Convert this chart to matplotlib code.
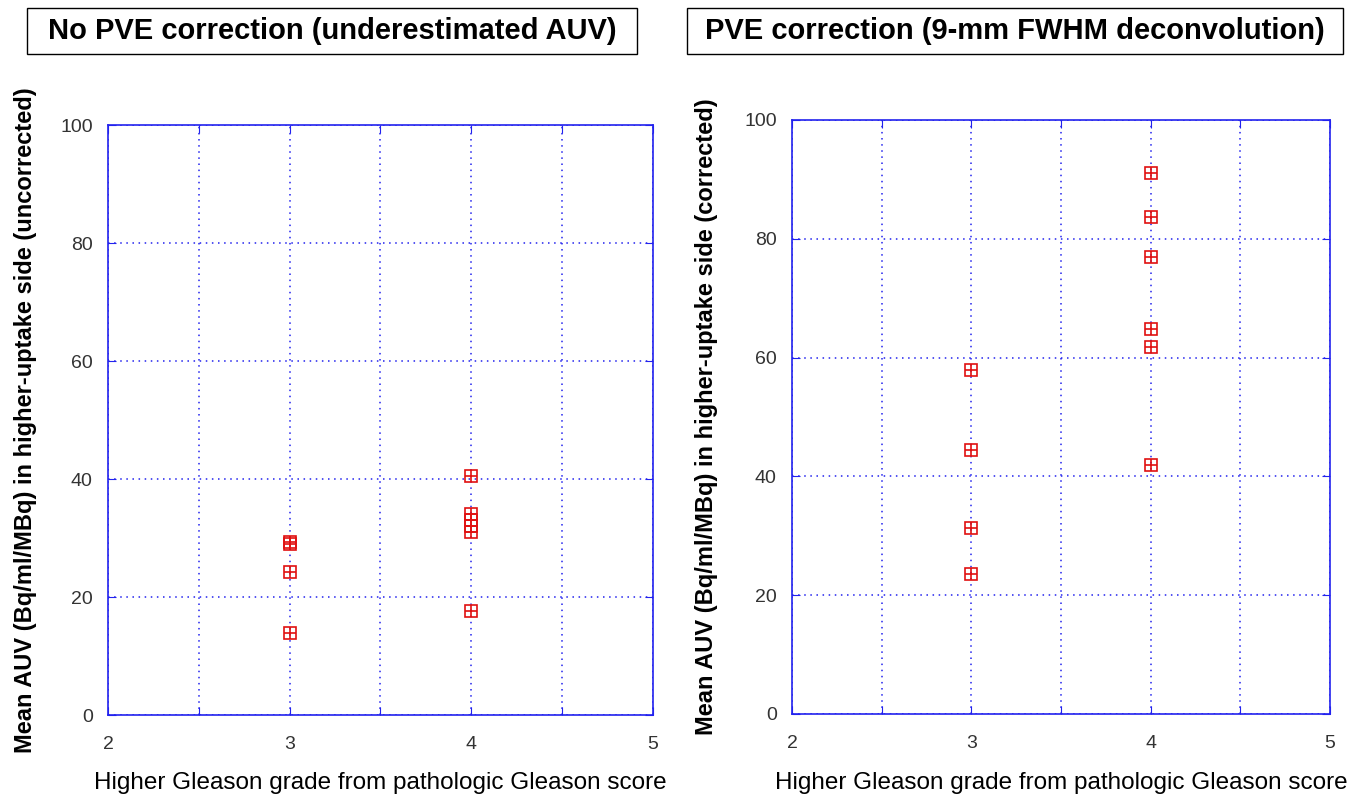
import matplotlib
matplotlib.use("Agg")
import matplotlib.pyplot as plt
from matplotlib.patches import Rectangle

plt.rcParams['font.family'] = ['Liberation Sans', 'DejaVu Sans']

# --- data ---
titles = ["No PVE correction (underestimated AUV)",
          "PVE correction (9-mm FWHM deconvolution)"]
ylabels = ["Mean AUV (Bq/ml/MBq) in higher-uptake side (uncorrected)",
           "Mean AUV (Bq/ml/MBq) in higher-uptake side (corrected)"]
xlabel = "Higher Gleason grade from pathologic Gleason score"

left_g3 = [29.0, 29.3, 24.3, 13.9]
left_g4 = [40.5, 34.0, 33.0, 32.0, 31.0, 17.6]
right_g3 = [57.9, 44.4, 31.3, 23.6]
right_g4 = [91.0, 83.6, 76.9, 64.8, 61.8, 41.9]

W, H = 1356, 798
fig = plt.figure(figsize=(W / 100, H / 100), dpi=100)

blue = '#2222ee'
red = '#e01010'


def px_box(x0, y0, x1, y1):
    # pixel box (top-left origin) -> figure fraction rect
    return [x0 / W, 1 - y1 / H, (x1 - x0) / W, (y1 - y0) / H]


axes_px = [(108, 125, 653, 715), (792, 120, 1330, 714)]
title_px = [(27, 8, 637, 54), (687, 8, 1343, 54)]
series = [(left_g3, left_g4), (right_g3, right_g4)]
ylab_x = [26, 706]

for i in range(2):
    ax = fig.add_axes(px_box(*axes_px[i]))
    g3, g4 = series[i]
    for xs, ys in (([3] * len(g3), g3), ([4] * len(g4), g4)):
        ax.plot(xs, ys, linestyle='none', marker='s', markersize=9,
                markerfacecolor='none', markeredgecolor=red, markeredgewidth=1.2)
        ax.plot(xs, ys, linestyle='none', marker='+', markersize=9,
                color=red, markeredgewidth=1.2)

    ax.set_xlim(2, 5)
    ax.set_ylim(0, 100)
    ax.set_xticks([2, 2.5, 3, 3.5, 4, 4.5, 5])
    ax.set_xticklabels(['2', '', '3', '', '4', '', '5'])
    ax.set_yticks([0, 20, 40, 60, 80, 100])
    ax.tick_params(direction='in', top=True, right=True, length=6,
                   color=blue, labelsize=14, labelcolor='#333333')
    ax.tick_params(axis='x', pad=15)
    ax.tick_params(axis='y', pad=11)
    for s in ax.spines.values():
        s.set_color(blue)
        s.set_linewidth(1.2)
    ax.grid(True, color=blue, linestyle=(0, (1, 3)), linewidth=1.1)

    xc = (axes_px[i][0] + axes_px[i][2]) / 2
    fig.text(xc / W, 1 - 783 / H, xlabel, ha='center', va='center',
             fontsize=17.5)
    fig.text(ylab_x[i] / W, 1 - (axes_px[i][1] + axes_px[i][3]) / 2 / H,
             ylabels[i], rotation=90, ha='center', va='center',
             fontsize=17, fontweight='bold')

    # boxed title above each panel
    tb = title_px[i]
    fig.patches.append(Rectangle((tb[0] / W, 1 - tb[3] / H),
                                 (tb[2] - tb[0]) / W, (tb[3] - tb[1]) / H,
                                 transform=fig.transFigure, fill=False,
                                 edgecolor='black', linewidth=1))
    fig.text((tb[0] + tb[2]) / 2 / W, 1 - (tb[1] + tb[3]) / 2 / H, titles[i],
             ha='center', va='center', fontsize=21, fontweight='bold')

fig.savefig('out.png', dpi=100)
